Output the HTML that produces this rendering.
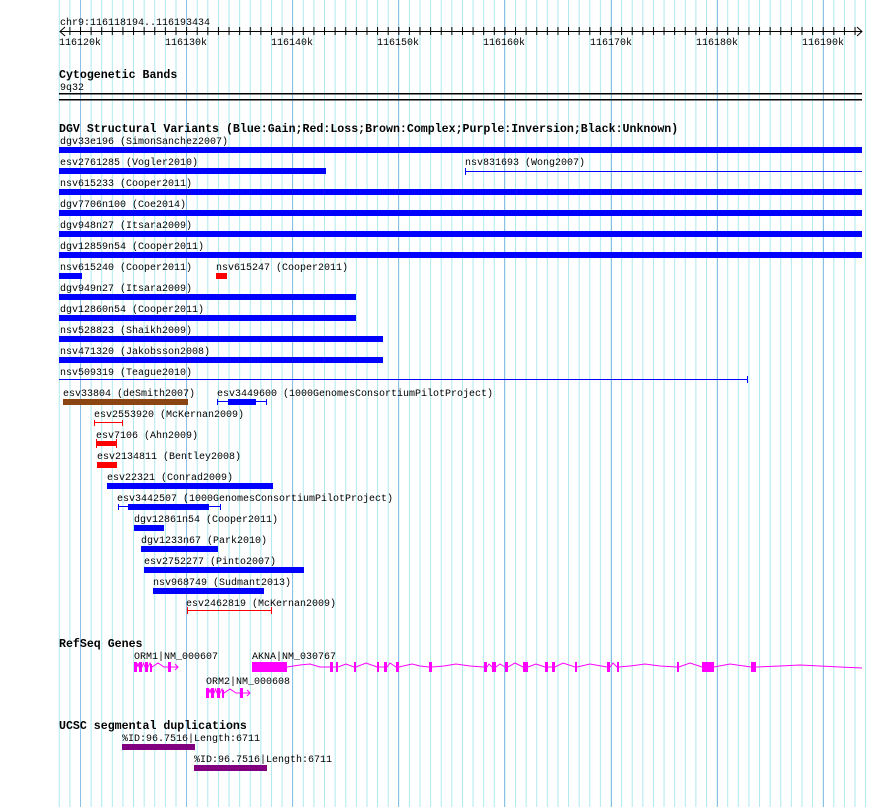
<!DOCTYPE html>
<html><head><meta charset="utf-8"><style>
html,body{margin:0;padding:0;background:#fff;}
svg{display:block;}
text{font-family:"Liberation Mono",monospace;font-size:10px;fill:#000;}
.b{font-weight:bold;font-size:11.6px;}
</style></head><body>
<svg width="890" height="807" viewBox="0 0 890 807" xmlns="http://www.w3.org/2000/svg">
<defs>
<pattern id="g" patternUnits="userSpaceOnUse" x="80" y="0" width="10.61" height="807">
<rect x="0" y="0" width="1" height="807" fill="#ade9ee"/>
</pattern>
<pattern id="t" patternUnits="userSpaceOnUse" x="80" y="0" width="10.61" height="50">
<rect x="0" y="27" width="1" height="8" fill="#000"/>
</pattern>
</defs>
<rect x="58" y="0" width="814" height="807" fill="url(#g)"/>
<g fill="#8cbfe4">
<rect x="80" y="0" width="1" height="807"/><rect x="186" y="0" width="1" height="807"/><rect x="292" y="0" width="1" height="807"/><rect x="398" y="0" width="1" height="807"/><rect x="504" y="0" width="1" height="807"/><rect x="611" y="0" width="1" height="807"/><rect x="717" y="0" width="1" height="807"/><rect x="823" y="0" width="1" height="807"/>
</g>
<!-- ruler -->
<text x="60" y="25">chr9:116118194..116193434</text>
<rect x="60" y="31" width="802" height="1" fill="#000"/>
<rect x="60" y="27" width="802" height="8" fill="url(#t)"/>
<path d="M65,27 L60,31.5 L65,36 M857,27 L862,31.5 L857,36" stroke="#000" fill="none"/>
<g text-anchor="middle">
<text x="80" y="45">116120k</text><text x="186" y="45">116130k</text><text x="292" y="45">116140k</text><text x="398" y="45">116150k</text><text x="504" y="45">116160k</text><text x="611" y="45">116170k</text><text x="717" y="45">116180k</text><text x="823" y="45">116190k</text>
</g>
<!-- cyto -->
<text class="b" x="59" y="78">Cytogenetic Bands</text>
<text x="60" y="90">9q32</text>
<rect x="59" y="93" width="803" height="1.5" fill="#000"/>
<rect x="59" y="99" width="803" height="1.5" fill="#000"/>
<!-- DGV -->
<text class="b" x="59" y="132">DGV Structural Variants (Blue:Gain;Red:Loss;Brown:Complex;Purple:Inversion;Black:Unknown)</text>
<text x="60" y="144">dgv33e196 (SimonSanchez2007)</text>
<text x="60" y="165">esv2761285 (Vogler2010)</text>
<text x="465" y="165">nsv831693 (Wong2007)</text>
<text x="60" y="186">nsv615233 (Cooper2011)</text>
<text x="60" y="207">dgv7706n100 (Coe2014)</text>
<text x="60" y="228">dgv948n27 (Itsara2009)</text>
<text x="60" y="249">dgv12859n54 (Cooper2011)</text>
<text x="60" y="270">nsv615240 (Cooper2011)</text>
<text x="216" y="270">nsv615247 (Cooper2011)</text>
<text x="60" y="291">dgv949n27 (Itsara2009)</text>
<text x="60" y="312">dgv12860n54 (Cooper2011)</text>
<text x="60" y="333">nsv528823 (Shaikh2009)</text>
<text x="60" y="354">nsv471320 (Jakobsson2008)</text>
<text x="60" y="375">nsv509319 (Teague2010)</text>
<g fill="#0000ff">
<rect x="59" y="147" width="803" height="6"/>
<rect x="59" y="168" width="267" height="6"/>
<rect x="465" y="171" width="397" height="1"/><rect x="465" y="168" width="1" height="7"/>
<rect x="59" y="189" width="803" height="6"/>
<rect x="59" y="210" width="803" height="6"/>
<rect x="59" y="231" width="803" height="6"/>
<rect x="59" y="252" width="803" height="6"/>
<rect x="59" y="273" width="23" height="6"/>
<rect x="59" y="294" width="297" height="6"/>
<rect x="59" y="315" width="297" height="6"/>
<rect x="59" y="336" width="324" height="6"/>
<rect x="59" y="357" width="324" height="6"/>
<rect x="59" y="379" width="689" height="1"/><rect x="747" y="376" width="1" height="7"/>
</g>
<rect x="216" y="273" width="11" height="6" fill="#ff0000"/>
<text x="63" y="396">esv33804 (deSmith2007)</text>
<text x="217" y="396">esv3449600 (1000GenomesConsortiumPilotProject)</text>
<text x="94" y="417">esv2553920 (McKernan2009)</text>
<text x="96" y="438">esv7106 (Ahn2009)</text>
<text x="97" y="459">esv2134811 (Bentley2008)</text>
<text x="107" y="480">esv22321 (Conrad2009)</text>
<text x="117" y="501">esv3442507 (1000GenomesConsortiumPilotProject)</text>
<text x="134" y="522">dgv12861n54 (Cooper2011)</text>
<text x="141" y="543">dgv1233n67 (Park2010)</text>
<text x="144" y="564">esv2752277 (Pinto2007)</text>
<text x="153" y="585">nsv968749 (Sudmant2013)</text>
<text x="186" y="606">esv2462819 (McKernan2009)</text>
<rect x="63" y="399" width="125" height="6" fill="#8b4513"/>
<g fill="#0000ff">
<rect x="217" y="401" width="50" height="1"/><rect x="217" y="399" width="1" height="6"/><rect x="266" y="399" width="1" height="6"/><rect x="228" y="399" width="28" height="6"/>
<rect x="107" y="483" width="166" height="6"/>
<rect x="118" y="506" width="103" height="1"/><rect x="118" y="504" width="1" height="6"/><rect x="220" y="504" width="1" height="6"/><rect x="128" y="504" width="81" height="6"/>
<rect x="134" y="525" width="30" height="6"/>
<rect x="141" y="546" width="77" height="6"/>
<rect x="144" y="567" width="160" height="6"/>
<rect x="153" y="588" width="111" height="6"/>
</g>
<g fill="#ff0000">
<rect x="94" y="422" width="29" height="1"/><rect x="94" y="420" width="1" height="6"/><rect x="122" y="420" width="1" height="6"/>
<rect x="96" y="441" width="21" height="5"/><rect x="96" y="439" width="1" height="9"/><rect x="116" y="439" width="1" height="9"/>
<rect x="97" y="462" width="20" height="6"/>
<rect x="187" y="610" width="85" height="1"/><rect x="187" y="607" width="1" height="7"/><rect x="271" y="607" width="1" height="7"/>
</g>
<!-- RefSeq -->
<text class="b" x="59" y="647">RefSeq Genes</text>
<text x="134" y="659">ORM1|NM_000607</text>
<text x="252" y="659">AKNA|NM_030767</text>
<text x="206" y="684">ORM2|NM_000608</text>
<g fill="#ff00ff">
<rect x="134" y="662" width="3" height="10"/><rect x="139" y="662" width="3" height="10"/><rect x="145" y="662" width="3" height="10"/><rect x="150" y="664" width="2" height="8"/><rect x="168" y="662" width="3" height="10"/>
<rect x="206" y="688" width="3" height="10"/><rect x="211" y="688" width="3" height="10"/><rect x="217" y="688" width="3" height="10"/><rect x="222" y="690" width="2" height="8"/><rect x="240" y="688" width="3" height="10"/>
<rect x="252" y="662" width="35" height="10"/>
<rect x="330" y="662" width="3" height="10"/><rect x="336" y="662" width="2" height="10"/><rect x="354" y="662" width="2" height="10"/><rect x="377" y="662" width="2" height="10"/><rect x="384" y="662" width="3" height="10"/><rect x="396" y="662" width="3" height="10"/>
<rect x="429" y="662" width="3" height="10"/><rect x="484" y="662" width="3" height="10"/><rect x="492" y="662" width="4" height="10"/><rect x="505" y="662" width="3" height="10"/><rect x="523" y="662" width="5" height="10"/><rect x="545" y="662" width="3" height="10"/><rect x="552" y="662" width="3" height="10"/><rect x="575" y="662" width="2" height="10"/><rect x="607" y="662" width="3" height="10"/><rect x="617" y="662" width="2" height="10"/><rect x="677" y="662" width="2" height="10"/><rect x="702" y="662" width="12" height="10"/><rect x="751" y="662" width="5" height="10"/>
</g>
<g stroke="#ff00ff" fill="none" stroke-width="1">
<polyline points="137,667 138,663 139,667 142,667 143.5,663 145,667 148,667 150,663 152,667 158,663 164,667 168,667 171,667 178,667 M174,664"/>
<path d="M171,667 L178,667 M175,664 L178,667 L175,670"/>
<polyline points="209,693 210,689 211,693 214,693 215.5,689 217,693 220,693 222,689 224,693 230,689 236,693 240,693 243,693 250,693"/>
<path d="M247,690 L250,693 L247,696"/>
<polyline points="287,667 300,665 310,664 320,667 330,667 333,667 336,667 338,667 346,664 354,667 356,667 366,663 377,667 379,667 384,667 387,667 390,663 396,667 399,667 412,664 420,666 429,667 432,667 444,666 456,664 470,666 484,667 487,667 489,664 492,667 496,667 500,664 505,667 508,667 515,663 523,667 528,667 536,664 545,667 548,667 552,667 555,667 563,663 575,667 577,667 590,664 607,667 610,667 613,663 617,667 619,667 630,666 645,664 660,666 677,667 679,667 690,663 702,667 714,667 730,664 751,667 756,667 780,666 800,665 820,666 840,667 862,668"/>
</g>
<!-- segdups -->
<text class="b" x="59" y="729">UCSC segmental duplications</text>
<text x="122" y="741">%ID:96.7516|Length:6711</text>
<text x="194" y="762">%ID:96.7516|Length:6711</text>
<rect x="122" y="744" width="73" height="6" fill="#800080"/>
<rect x="194" y="765" width="73" height="6" fill="#800080"/>
</svg>
</body></html>
